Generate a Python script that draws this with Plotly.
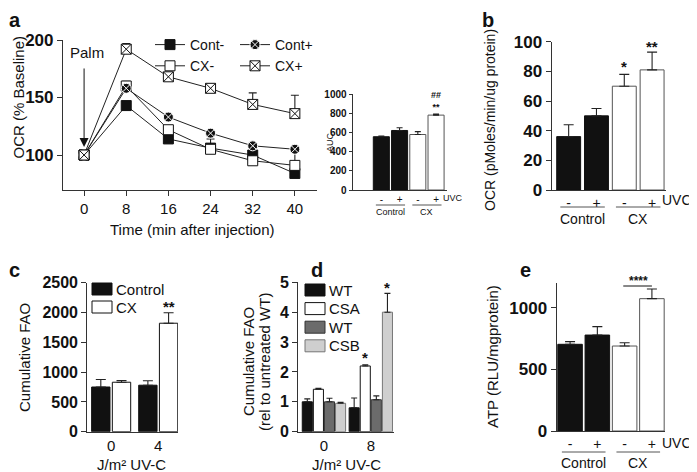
import plotly.graph_objects as go

W, H = 697, 472
OFF = 8  # page body margin in front of the plot div
FONT = "Arial, Liberation Sans, sans-serif"

# panel a - OCR time course (% baseline)
time_min = [0, 8, 16, 24, 32, 40]
cont_minus = [100, 143, 114, 106, 100, 84]
cx_minus = [100, 160, 122, 105, 95, 91]
cont_plus = [100, 158, 133, 119, 108, 105]
cx_plus = [100, 192, 168, 158, 144, 136]
cont_minus_err = [0, 2, 2, 8, 3, 2]
cx_minus_err = [0, 4, 2, 2, 2, 14]
cont_plus_err = [0, 2, 2, 2, 2, 2]
cx_plus_err = [0, 5, 2, 4, 10, 16]

# AUC inset
uvc_labels = ["-", "+", "-", "+"]
auc_vals = [555, 620, 578, 780]
auc_err = [8, 28, 30, 12]

# panel b
ocr_vals = [36, 50, 70, 81]
ocr_err = [8, 5, 8, 12]

# panel c
dose_c = ["0", "4"]
fao_control = [750, 780]
fao_control_err = [125, 75]
fao_cx = [830, 1820]
fao_cx_err = [30, 175]

# panel d
dose_d = ["0", "8"]
fao_wt1 = [1.0, 0.8]
fao_wt1_err = [0.1, 0.33]
fao_csa = [1.42, 2.2]
fao_csa_err = [0.03, 0.04]
fao_wt2 = [1.0, 1.07]
fao_wt2_err = [0.12, 0.13]
fao_csb = [0.95, 4.0]
fao_csb_err = [0.03, 0.63]

# panel e
atp_vals = [703, 778, 689, 1073]
atp_err = [22, 68, 27, 78]

bar_fill = ["#111", "#111", "white", "white"]
bar_edge = ["#111", "#111", "#555", "#555"]


def px(x):
    return (x - OFF) / W


def py(y):
    return 1 - (y - OFF) / H


def err(vals, w=4):
    return dict(type="data", array=vals, arrayminus=[0] * len(vals), symmetric=False,
                color="#222", thickness=1.1, width=w)


fig = go.Figure()

# ---- panel a
series = [
    ("Cont-", cont_minus, cont_minus_err, "square", "#111", "#111", "legend"),
    ("CX-", cx_minus, cx_minus_err, "square", "white", "#111", "legend"),
    ("Cont+", cont_plus, cont_plus_err, "circle-x", "#111", "white", "legend2"),
    ("CX+", cx_plus, cx_plus_err, "square-x", "white", "#111", "legend2"),
]
for name, vals, e, sym, fill, edge, leg in series:
    fig.add_trace(go.Scatter(
        x=time_min, y=vals, name=name, mode="lines+markers", legend=leg,
        line=dict(color="#222", width=1),
        marker=dict(symbol=sym, size=10, color=fill, line=dict(color=edge, width=1)),
        error_y=err(e), xaxis="x", yaxis="y", cliponaxis=False,
    ))

# ---- AUC inset
fig.add_trace(go.Bar(
    x=[0, 1, 2, 3], y=auc_vals, width=0.88, showlegend=False,
    marker=dict(color=bar_fill, line=dict(color=bar_edge, width=1)),
    error_y=err(auc_err, 3), xaxis="x2", yaxis="y2",
))

# ---- panel b
fig.add_trace(go.Bar(
    x=[0, 1, 2, 3], y=ocr_vals, width=0.86, showlegend=False,
    marker=dict(color=bar_fill, line=dict(color=bar_edge, width=1)),
    error_y=err(ocr_err, 5), xaxis="x3", yaxis="y3",
))

# ---- panel c
c_series = [("Control", fao_control, fao_control_err, "#111", "#111", -0.22),
            ("CX", fao_cx, fao_cx_err, "white", "#111", 0.22)]
for name, vals, e, fill, edge, shift in c_series:
    fig.add_trace(go.Bar(
        x=[i + shift for i in range(len(dose_c))], y=vals, width=0.39, name=name,
        showlegend=False,
        marker=dict(color=fill, line=dict(color=edge, width=1)),
        error_y=err(e, 5), xaxis="x4", yaxis="y4",
    ))

# ---- panel d
d_series = [
    ("WT", fao_wt1, fao_wt1_err, "#111", "#111", -0.355),
    ("CSA", fao_csa, fao_csa_err, "white", "#111", -0.118),
    ("WT", fao_wt2, fao_wt2_err, "#6b6b6b", "#333", 0.118),
    ("CSB", fao_csb, fao_csb_err, "#cfcfcf", "#777", 0.355),
]
for name, vals, e, fill, edge, shift in d_series:
    fig.add_trace(go.Bar(
        x=[i + shift for i in range(len(dose_d))], y=vals, width=0.215, name=name,
        showlegend=False,
        marker=dict(color=fill, line=dict(color=edge, width=1)),
        error_y=err(e, 3), xaxis="x5", yaxis="y5",
    ))

# ---- panel e
fig.add_trace(go.Bar(
    x=[0, 1, 2, 3], y=atp_vals, width=0.9, showlegend=False,
    marker=dict(color=bar_fill, line=dict(color=bar_edge, width=1)),
    error_y=err(atp_err, 5), xaxis="x6", yaxis="y6",
))

axis_base = dict(showline=True, linecolor="#333", linewidth=1.2, showgrid=False,
                 zeroline=False, ticks="outside", tickcolor="#333", ticklen=5)


def yfont(size):
    return dict(family=FONT, size=size, color="#111", weight="bold")


def xfont(size):
    return dict(family=FONT, size=size, color="#111")


leg_style = dict(xanchor="left", yanchor="top", bgcolor="rgba(0,0,0,0)",
                 font=dict(family=FONT, size=14, color="#111"), itemwidth=30, tracegroupgap=0)

fig.update_layout(
    width=W, height=H, margin=dict(l=0, r=0, t=0, b=0, autoexpand=False),
    plot_bgcolor="white", paper_bgcolor="white", barmode="overlay",
    font=dict(family=FONT, color="#111"),
    # a
    xaxis=dict(axis_base, domain=[px(63), px(317)], range=[-4, 44.2], anchor="y",
               tickvals=time_min, tickfont=xfont(15)),
    yaxis=dict(axis_base, domain=[py(190), py(40)], range=[69.6, 200], anchor="x",
               tickvals=[100, 150, 200], tickfont=yfont(17)),
    # inset
    xaxis2=dict(axis_base, domain=[px(352.7), px(447)], range=[-1.57, 3.6], anchor="y2",
                ticks="", tickvals=[0, 1, 2, 3], ticktext=uvc_labels, tickfont=xfont(10)),
    yaxis2=dict(axis_base, domain=[py(190), py(94)], range=[0, 1000], anchor="x2",
                dtick=200, ticklen=3, tickfont=yfont(10)),
    # b
    xaxis3=dict(axis_base, domain=[px(551.7), px(666)], range=[-0.61, 3.5], anchor="y3",
                ticks="", tickvals=[0, 1, 2, 3], ticktext=uvc_labels, tickfont=xfont(14)),
    yaxis3=dict(axis_base, domain=[py(190), py(41.7)], range=[0, 100], anchor="x3",
                dtick=20, tickfont=yfont(17)),
    # c
    xaxis4=dict(axis_base, domain=[px(87.3), px(178)], range=[-0.507, 1.42], anchor="y4",
                ticks="", tickvals=[0, 1], ticktext=dose_c, tickfont=xfont(15)),
    yaxis4=dict(axis_base, domain=[py(431.7), py(282.7)], range=[0, 2500], anchor="x4",
                dtick=500, tickfont=yfont(16)),
    # d
    xaxis5=dict(axis_base, domain=[px(298.3), px(394)], range=[-0.547, 1.495], anchor="y5",
                ticks="", tickvals=[0, 1], ticktext=dose_d, tickfont=xfont(15)),
    yaxis5=dict(axis_base, domain=[py(431.7), py(282.3)], range=[0, 5], anchor="x5",
                dtick=1, tickfont=yfont(16)),
    # e
    xaxis6=dict(axis_base, domain=[px(556.7), px(665)], range=[-0.49, 3.48], anchor="y6",
                ticks="", tickvals=[0, 1, 2, 3], ticktext=uvc_labels, tickfont=xfont(14)),
    yaxis6=dict(axis_base, domain=[py(431), py(283)], range=[0, 1200], anchor="x6",
                tickvals=[0, 500, 1000], tickfont=yfont(17)),
    legend=dict(leg_style, x=px(150), y=py(29)),
    legend2=dict(leg_style, x=px(235), y=py(29)),
)


def label(text, x, y, size=15, angle=0, bold=False, xanchor="center", yanchor="middle"):
    fig.add_annotation(text=text, x=px(x), y=py(y), xref="paper", yref="paper",
                       showarrow=False, textangle=angle, xanchor=xanchor, yanchor=yanchor,
                       borderpad=0,
                       font=dict(family=FONT, size=size, color="#111",
                                 weight="bold" if bold else "normal"))


# panel letters
label("a", OFF, OFF, 20, bold=True, xanchor="left", yanchor="top")
label("b", 488, OFF, 20, bold=True, yanchor="top")
label("c", OFF, 270, 20, bold=True, xanchor="left")
label("d", 317, 270, 20, bold=True)
label("e", 525, 270, 20, bold=True)

# axis titles
label("OCR (% Baseline)", OFF, 97, 15, angle=-90, xanchor="left")
label("Time (min after injection)", 192, 229, 15)
label("AUC", 330, 142, 9, angle=-90)
label("OCR (pMoles/min/ug protein)", 490, 120, 14, angle=-90)
label("Cumulative FAO", 24, 358, 15, angle=-90)
label("Cumulative FAO", 248, 362, 15, angle=-90)
label("(rel to untreated WT)", 264, 362, 15, angle=-90)
label("J/m² UV-C", 131, 464, 15)
label("J/m² UV-C", 346, 464, 15)
label("ATP (RLU/mgprotein)", 492, 357, 15, angle=-90)

# custom legends for panels c and d (compact row spacing)
for rows, x0, y0, step, w in [(c_series, 92, 289, 18, 20), (d_series, 305, 290, 18.6, 20)]:
    for i, row in enumerate(rows):
        yc = y0 + i * step
        fig.add_shape(type="rect", xref="paper", yref="paper",
                      x0=px(x0), x1=px(x0 + w), y0=py(yc + 6), y1=py(yc - 6),
                      fillcolor=row[3], line=dict(color=row[4], width=1))
        label(row[0], x0 + w + 3, yc, 15, xanchor="left")

# Palm injection arrow
fig.add_annotation(x=0, y=107, xref="x", yref="y", ax=0, ay=-80, axref="pixel",
                   showarrow=True, arrowhead=2, arrowsize=1.8, arrowwidth=1, arrowcolor="#111",
                   text="")
label("Palm", 87, 53, 15)

# UVC / group labels under the 4-bar panels
for xa, ypx_uvc, x_uvc, anchor, y_line, y_grp, fs in [
        ("x2", 198, 453, "center", 205, 212, 9),
        ("x3", 200, 693, "right", 207, 219, 14),
        ("x6", 443, 693, "right", 452, 463, 14)]:
    label("UVC", x_uvc, ypx_uvc, fs, xanchor=anchor)
    for x0, x1, grp in [(-0.3, 1.3, "Control"), (1.7, 3.3, "CX")]:
        fig.add_shape(type="line", xref=xa, yref="paper", x0=x0, x1=x1,
                      y0=py(y_line), y1=py(y_line), line=dict(color="#555", width=1))
        fig.add_annotation(text=grp, x=(x0 + x1) / 2, y=py(y_grp), xref=xa, yref="paper",
                           showarrow=False, xanchor="center", yanchor="middle", borderpad=0,
                           font=dict(family=FONT, size=fs, color="#111"))

# significance marks
stars = [
    ("x3", "y3", 2, 83, "*", 15), ("x3", "y3", 3, 97, "**", 15),
    ("x4", "y4", 1.22, 2100, "**", 15),
    ("x5", "y5", 0.882, 2.5, "*", 15), ("x5", "y5", 1.355, 4.82, "*", 15),
]
for xa, ya, xv, yv, txt, fs in stars:
    fig.add_annotation(text=txt, x=xv, y=yv, xref=xa, yref=ya, showarrow=False,
                       font=dict(family=FONT, size=fs, color="#111", weight="bold"))
fig.add_annotation(text="##<br>**", x=3, y=800, xref="x2", yref="y2", showarrow=False,
                   yanchor="bottom", borderpad=0,
                   font=dict(family=FONT, size=9, color="#111", weight="bold"))
fig.add_annotation(text="****", x=2.5, y=py(281), xref="x6", yref="paper", showarrow=False,
                   yanchor="middle",
                   font=dict(family=FONT, size=12, color="#111", weight="bold"))
fig.add_shape(type="line", xref="x6", yref="paper", x0=1.95, x1=3.0, y0=py(286), y1=py(286),
              line=dict(color="#111", width=1))

fig.write_html("out.html")
